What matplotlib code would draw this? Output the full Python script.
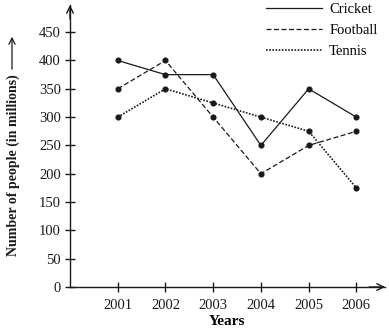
import matplotlib
matplotlib.use("Agg")
import matplotlib.pyplot as plt
from matplotlib.lines import Line2D

years = ["2001", "2002", "2003", "2004", "2005", "2006"]
cricket = [400, 375, 375, 250, 350, 300]
football = [350, 400, 300, 200, 250, 275]
tennis = [300, 350, 325, 300, 275, 175]
yticks = [0, 50, 100, 150, 200, 250, 300, 350, 400, 450]

plt.rcParams['font.family'] = ['Liberation Serif', 'DejaVu Serif']

W, H = 389, 329
fig = plt.figure(figsize=(W/100, H/100), dpi=100)
x0, y0, x1, y1 = 70, 287, 385, 5
ax = fig.add_axes([x0/W, (H-y0)/H, (x1-x0)/W, (y0-y1)/H])

xs = list(range(1, len(years)+1))
lw = 0.9
ax.plot(xs, cricket, color='#1a1a1a', lw=lw, ls='-', marker='o', ms=3.4, mfc='#1a1a1a', mec='#1a1a1a')
ax.plot(xs, football, color='#1a1a1a', lw=lw, ls=(0, (4, 2)), marker='o', ms=3.4, mfc='#1a1a1a', mec='#1a1a1a')
ax.plot(xs, tennis, color='#1a1a1a', lw=1.2, ls=(0, (1, 0.9)), marker='o', ms=3.4, mfc='#1a1a1a', mec='#1a1a1a')

ax.set_xlim(0, 6.6)
ax.set_ylim(0, 498)
ax.set_xticks(xs)
ax.set_xticklabels(years)
ax.set_yticks(yticks)
for s in ['top', 'right']:
    ax.spines[s].set_visible(False)
for s in ['left', 'bottom']:
    ax.spines[s].set_linewidth(1.0)
    ax.spines[s].set_color('#1a1a1a')
ax.tick_params(direction='inout', length=7, width=1.0, colors='#1a1a1a', labelsize=10.5, pad=3)
ax.tick_params(axis='x', pad=5)

# arrows on axes
ax.annotate('', xy=(1.0, 0), xytext=(0.95, 0), xycoords='axes fraction',
            arrowprops=dict(arrowstyle='->', lw=1.0, color='#1a1a1a', mutation_scale=12, shrinkA=0, shrinkB=0))
ax.annotate('', xy=(0, 1.0), xytext=(0, 0.95), xycoords='axes fraction',
            arrowprops=dict(arrowstyle='->', lw=1.0, color='#1a1a1a', mutation_scale=12, shrinkA=0, shrinkB=0))

ax.set_xlabel('Years', fontsize=11, fontweight='bold', labelpad=2)
fig.text(13/W, 1 - 165/H, 'Number of people (in millions)', rotation=90, fontsize=10,
         fontweight='bold', ha='center', va='center', color='#1a1a1a')
fig.add_artist(matplotlib.patches.FancyArrowPatch((12/W, 1-72/H), (12/W, 1-34/H),
               transform=fig.transFigure, arrowstyle='->', lw=0.9, color='#1a1a1a', mutation_scale=11))

handles = [Line2D([], [], color='#1a1a1a', lw=lw, ls='-'),
           Line2D([], [], color='#1a1a1a', lw=lw, ls=(0, (4, 2))),
           Line2D([], [], color='#1a1a1a', lw=1.2, ls=(0, (1, 0.9)))]
fig.legend(handles, ['Cricket', 'Football', 'Tennis'], loc='upper left',
           bbox_to_anchor=(265/W, 1 - 1/H), frameon=False, fontsize=10.5,
           handlelength=3.8, handletextpad=0.5, labelspacing=0.55, borderaxespad=0, borderpad=0.1)

fig.savefig('out.png', dpi=100)
